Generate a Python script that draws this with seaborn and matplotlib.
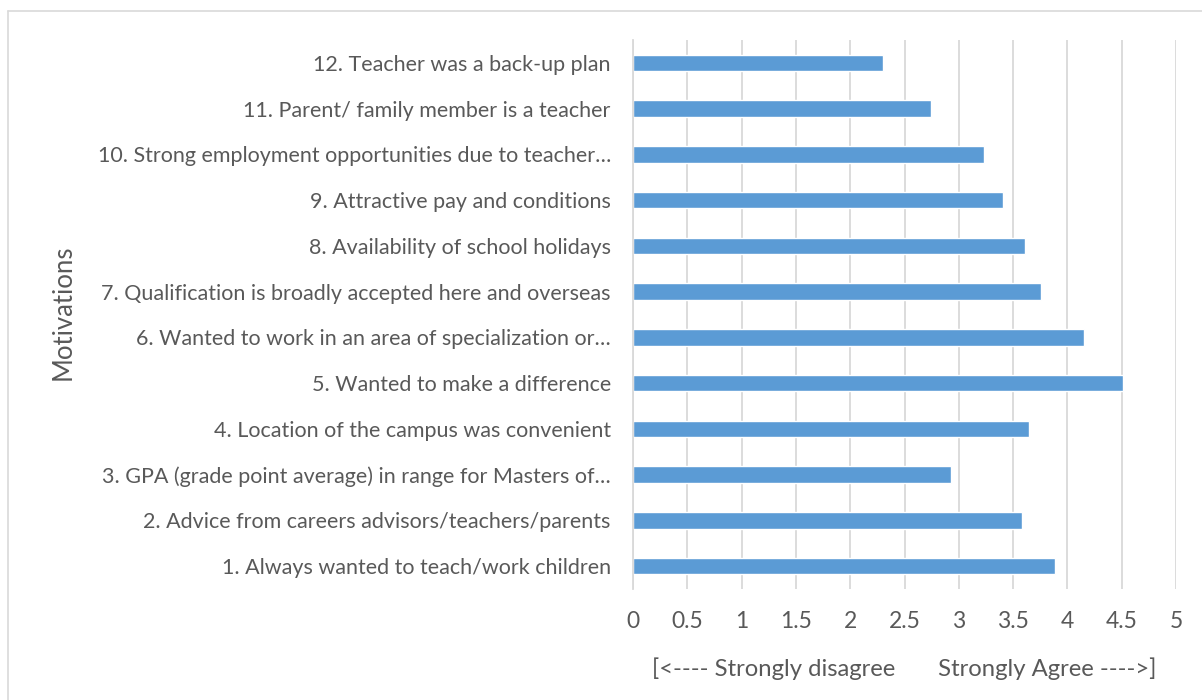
import matplotlib
matplotlib.use("Agg")
import matplotlib.pyplot as plt
import seaborn as sns
import pandas as pd
from matplotlib.lines import Line2D

motivations = [
    "12. Teacher was a back-up plan",
    "11. Parent/ family member is a teacher",
    "10. Strong employment opportunities due to teacher…",
    "9. Attractive pay and conditions",
    "8. Availability of school holidays",
    "7. Qualification is broadly accepted here and overseas",
    "6. Wanted to work in an area of specialization or…",
    "5. Wanted to make a difference",
    "4. Location of the campus was convenient",
    "3. GPA (grade point average) in range for Masters of…",
    "2. Advice from careers advisors/teachers/parents",
    "1. Always wanted to teach/work children",
]
scores = [2.30, 2.74, 3.23, 3.41, 3.61, 3.76, 4.15, 4.51, 3.65, 2.93, 3.58, 3.89]
x_ticks = [0, 0.5, 1, 1.5, 2, 2.5, 3, 3.5, 4, 4.5, 5]
x_label = "[<---- Strongly disagree       Strongly Agree ---->]"
y_label = "Motivations"

df = pd.DataFrame({"Motivation": motivations, "Score": scores})

sns.set_theme(style="white")
plt.rcParams["font.family"] = ["Lato", "DejaVu Sans"]
text_color = "#595959"

fig = plt.figure(figsize=(12.02, 7.0), dpi=100)
ax = fig.add_axes([633 / 1202, 1 - 589 / 700, (1176 - 633) / 1202, (589 - 40) / 700])

sns.barplot(data=df, x="Score", y="Motivation", order=motivations, color="#5B9BD5",
            width=0.36, saturation=1, ax=ax, orient="h")

ax.set_xlim(0, 5)
ax.set_xticks(x_ticks)
ax.set_xticklabels([f"{t:g}" for t in x_ticks])
ax.set_ylim(len(motivations) - 0.5, -0.5)
ax.grid(axis="x", color="#D9D9D9", linewidth=1.3)
ax.set_axisbelow(True)
for s in ["top", "right", "bottom"]:
    ax.spines[s].set_visible(False)
ax.spines["left"].set_color("#D9D9D9")
ax.spines["left"].set_linewidth(1.3)
ax.tick_params(axis="both", length=0, colors=text_color)
ax.tick_params(axis="y", pad=16, labelsize=15.5)
ax.tick_params(axis="x", pad=16, labelsize=16.5)
ax.set_xlabel(x_label, color=text_color, fontsize=17.2, labelpad=18)
ax.set_ylabel("")
fig.text(63 / 1202, 1 - 312 / 700, y_label, rotation=90, ha="center", va="center",
         color=text_color, fontsize=18.5)

# outer chart border (top and left visible)
fig.add_artist(Line2D([8 / 1202, 1.0], [1 - 11 / 700, 1 - 11 / 700], color="#D9D9D9", lw=1.2,
                      transform=fig.transFigure))
fig.add_artist(Line2D([8 / 1202, 8 / 1202], [0, 1 - 11 / 700], color="#D9D9D9", lw=1.2,
                      transform=fig.transFigure))

fig.savefig("out.png", dpi=100)
